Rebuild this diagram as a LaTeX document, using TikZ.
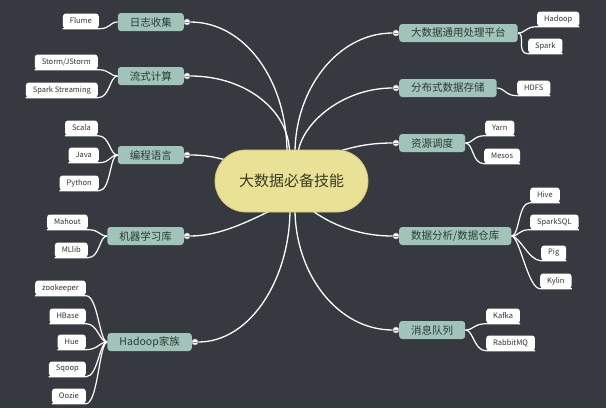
\documentclass[tikz,border=0pt]{standalone}
\usepackage{fontspec}
\setmainfont{Noto Sans CJK SC}
\definecolor{bgcol}{RGB}{54,57,63}
\definecolor{topicfill}{RGB}{160,196,185}
\definecolor{topictext}{RGB}{45,58,54}
\definecolor{hubfill}{RGB}{232,225,150}
\definecolor{hubdraw}{RGB}{210,200,118}
\definecolor{hubtext}{RGB}{60,58,34}
\definecolor{leaftext}{RGB}{50,50,50}
\pgfdeclarelayer{bg}
\pgfsetlayers{bg,main}

\begin{document}
\begin{tikzpicture}[yscale=-1
  ,hubbox/.style={fill=hubfill,draw=hubdraw,line width=0.8pt,rounded corners=31pt,minimum width=153pt,minimum height=62pt,text=hubtext,font=\fontsize{15}{18}\selectfont}
  ,topicbox/.style={fill=topicfill,rounded corners=3pt,minimum height=18pt,inner xsep=12pt,inner ysep=0pt,text=topictext,font=\fontsize{10.5}{12}\selectfont}
  ,leafbox/.style={fill=white,rounded corners=3pt,minimum height=15pt,inner xsep=7pt,inner ysep=0pt,text=leaftext,font=\fontsize{7.5}{9}\selectfont}
  ,knob/.style={circle,fill=white,draw=gray!70,line width=0.6pt,minimum size=6pt,inner sep=0pt,path picture={\draw[gray,line width=0.5pt] ([xshift=1.3pt]path picture bounding box.west) -- ([xshift=-1.3pt]path picture bounding box.east);}}
  ,branch/.style={draw=white,line width=1.3pt}
  ,twig/.style={draw=white,line width=1.2pt}
]

\useasboundingbox (0pt,0pt) rectangle (606pt,408pt);

% --- Centre ---
\node[hubbox] (hub) at (291.5pt,181pt) {大数据必备技能};

% --- Topics on the left ---
\node[topicbox,anchor=east] (log) at (184pt,22pt) {日志收集};
\node[topicbox,anchor=east] (stream) at (184pt,76pt) {流式计算};
\node[topicbox,anchor=east] (lang) at (184pt,155pt) {编程语言};
\node[topicbox,anchor=east] (ml) at (184pt,236pt) {机器学习库};
\node[topicbox,anchor=east] (hadoop) at (192pt,342pt) {Hadoop家族};

% --- Topics on the right ---
\node[topicbox,anchor=west] (plat) at (399pt,33pt) {大数据通用处理平台};
\node[topicbox,anchor=west] (store) at (399pt,88pt) {分布式数据存储};
\node[topicbox,anchor=west] (sched) at (399pt,143pt) {资源调度};
\node[topicbox,anchor=west] (ware) at (399pt,236pt) {数据分析/数据仓库};
\node[topicbox,anchor=west] (mq) at (399pt,330pt) {消息队列};

% --- Knobs ---
\node[knob] (klog) at (187pt,22pt) {};
\node[knob] (kstream) at (187pt,76pt) {};
\node[knob] (klang) at (187pt,155pt) {};
\node[knob] (kml) at (187pt,236pt) {};
\node[knob] (khadoop) at (195pt,342pt) {};
\node[knob] (kplat) at (396pt,33pt) {};
\node[knob] (kstore) at (396pt,88pt) {};
\node[knob] (ksched) at (396pt,143pt) {};
\node[knob] (kware) at (396pt,236pt) {};
\node[knob] (kmq) at (396pt,330pt) {};

% --- Leaves on the left ---
\node[leafbox,anchor=east] (flume) at (99pt,21pt) {Flume};
\node[leafbox,anchor=east] (storm) at (98pt,62pt) {Storm/JStorm};
\node[leafbox,anchor=east] (sparkst) at (98pt,90pt) {Spark Streaming};
\node[leafbox,anchor=east] (scala) at (98pt,128pt) {Scala};
\node[leafbox,anchor=east] (java) at (99pt,155pt) {Java};
\node[leafbox,anchor=east] (python) at (99pt,183pt) {Python};
\node[leafbox,anchor=east] (mahout) at (88pt,222pt) {Mahout};
\node[leafbox,anchor=east] (mllib) at (88pt,250pt) {MLlib};
\node[leafbox,anchor=east] (zk) at (86pt,288pt) {zookeeper};
\node[leafbox,anchor=east] (hbase) at (86pt,316pt) {HBase};
\node[leafbox,anchor=east] (hue) at (86pt,342pt) {Hue};
\node[leafbox,anchor=east] (sqoop) at (86pt,369pt) {Sqoop};
\node[leafbox,anchor=east] (oozie) at (86pt,396pt) {Oozie};

% --- Leaves on the right ---
\node[leafbox,anchor=west] (hdp) at (537pt,19pt) {Hadoop};
\node[leafbox,anchor=west] (spark) at (528pt,46pt) {Spark};
\node[leafbox,anchor=west] (hdfs) at (517pt,88pt) {HDFS};
\node[leafbox,anchor=west] (yarn) at (485pt,128pt) {Yarn};
\node[leafbox,anchor=west] (mesos) at (484pt,156pt) {Mesos};
\node[leafbox,anchor=west] (hive) at (530pt,195pt) {Hive};
\node[leafbox,anchor=west] (sparksql) at (530pt,222pt) {SparkSQL};
\node[leafbox,anchor=west] (pig) at (541pt,253pt) {Pig};
\node[leafbox,anchor=west] (kylin) at (540pt,281pt) {Kylin};
\node[leafbox,anchor=west] (kafka) at (486pt,316pt) {Kafka};
\node[leafbox,anchor=west] (rabbit) at (486pt,343pt) {RabbitMQ};

% --- Start points on the centre ---
\coordinate (hlog) at (287pt,153pt);
\coordinate (hstream) at (289.5pt,153pt);
\coordinate (hlang) at (226pt,160pt);
\coordinate (hml) at (274pt,209pt);
\coordinate (hhadoop) at (290pt,209pt);
\coordinate (hplat) at (295pt,153pt);
\coordinate (hstore) at (298pt,153pt);
\coordinate (hsched) at (333pt,153pt);
\coordinate (hware) at (310pt,209pt);
\coordinate (hmq) at (295pt,209pt);

\begin{pgfonlayer}{bg}
\fill[bgcol] (0pt,0pt) rectangle (606pt,408pt);

% --- Branches from the centre ---
\draw[branch] (hlog) .. controls +(0pt,-72pt) and +(55pt,0pt) .. (klog.east);
\draw[branch] (hstream) .. controls +(0pt,-42pt) and +(56pt,0pt) .. (kstream.east);
\draw[branch] (hlang) .. controls +(-12pt,-3pt) and +(15pt,0pt) .. (klang.east);
\draw[branch] (hml) .. controls +(-25pt,12pt) and +(30pt,0pt) .. (kml.east);
\draw[branch] (hhadoop) .. controls +(0pt,70pt) and +(52pt,0pt) .. (khadoop.east);
\draw[branch] (hplat) .. controls +(0pt,-64pt) and +(-55pt,0pt) .. (kplat.west);
\draw[branch] (hstore) .. controls +(4pt,-30pt) and +(-50pt,0pt) .. (kstore.west);
\draw[branch] (hsched) .. controls +(20pt,-6pt) and +(-25pt,0pt) .. (ksched.west);
\draw[branch] (hware) .. controls +(20pt,15pt) and +(-35pt,0pt) .. (kware.west);
\draw[branch] (hmq) .. controls +(0pt,65pt) and +(-55pt,0pt) .. (kmq.west);

% --- Twigs on the left ---
\draw[twig] (flume.south west) -- (flume.south east) .. controls +(12pt,0pt) and +(-8pt,0pt) .. (log.west);
\draw[twig] (storm.south west) -- (storm.south east) .. controls +(12pt,0pt) and +(-8pt,0pt) .. (stream.west);
\draw[twig] (sparkst.south west) -- (sparkst.south east) .. controls +(12pt,0pt) and +(-8pt,0pt) .. (stream.west);
\draw[twig] (scala.south west) -- (scala.south east) .. controls +(12pt,0pt) and +(-8pt,0pt) .. (lang.west);
\draw[twig] (java.south west) -- (java.south east) .. controls +(12pt,0pt) and +(-8pt,0pt) .. (lang.west);
\draw[twig] (python.south west) -- (python.south east) .. controls +(12pt,0pt) and +(-8pt,0pt) .. (lang.west);
\draw[twig] (mahout.south west) -- (mahout.south east) .. controls +(12pt,0pt) and +(-8pt,0pt) .. (ml.west);
\draw[twig] (mllib.south west) -- (mllib.south east) .. controls +(12pt,0pt) and +(-8pt,0pt) .. (ml.west);
\draw[twig] (zk.south west) -- (zk.south east) .. controls +(12pt,0pt) and +(-8pt,0pt) .. (hadoop.west);
\draw[twig] (hbase.south west) -- (hbase.south east) .. controls +(12pt,0pt) and +(-8pt,0pt) .. (hadoop.west);
\draw[twig] (hue.south west) -- (hue.south east) .. controls +(12pt,0pt) and +(-8pt,0pt) .. (hadoop.west);
\draw[twig] (sqoop.south west) -- (sqoop.south east) .. controls +(12pt,0pt) and +(-8pt,0pt) .. (hadoop.west);
\draw[twig] (oozie.south west) -- (oozie.south east) .. controls +(12pt,0pt) and +(-8pt,0pt) .. (hadoop.west);

% --- Twigs on the right ---
\draw[twig] (plat.east) .. controls +(8pt,0pt) and +(-12pt,0pt) .. (hdp.south west) -- (hdp.south east);
\draw[twig] (plat.east) .. controls +(8pt,0pt) and +(-12pt,0pt) .. (spark.south west) -- (spark.south east);
\draw[twig] (store.east) .. controls +(8pt,0pt) and +(-12pt,0pt) .. (hdfs.south west) -- (hdfs.south east);
\draw[twig] (sched.east) .. controls +(8pt,0pt) and +(-12pt,0pt) .. (yarn.south west) -- (yarn.south east);
\draw[twig] (sched.east) .. controls +(8pt,0pt) and +(-12pt,0pt) .. (mesos.south west) -- (mesos.south east);
\draw[twig] (ware.east) .. controls +(8pt,0pt) and +(-12pt,0pt) .. (hive.south west) -- (hive.south east);
\draw[twig] (ware.east) .. controls +(8pt,0pt) and +(-12pt,0pt) .. (sparksql.south west) -- (sparksql.south east);
\draw[twig] (ware.east) .. controls +(8pt,0pt) and +(-12pt,0pt) .. (pig.south west) -- (pig.south east);
\draw[twig] (ware.east) .. controls +(8pt,0pt) and +(-12pt,0pt) .. (kylin.south west) -- (kylin.south east);
\draw[twig] (mq.east) .. controls +(8pt,0pt) and +(-12pt,0pt) .. (kafka.south west) -- (kafka.south east);
\draw[twig] (mq.east) .. controls +(8pt,0pt) and +(-12pt,0pt) .. (rabbit.south west) -- (rabbit.south east);
\end{pgfonlayer}

\end{tikzpicture}
\end{document}
